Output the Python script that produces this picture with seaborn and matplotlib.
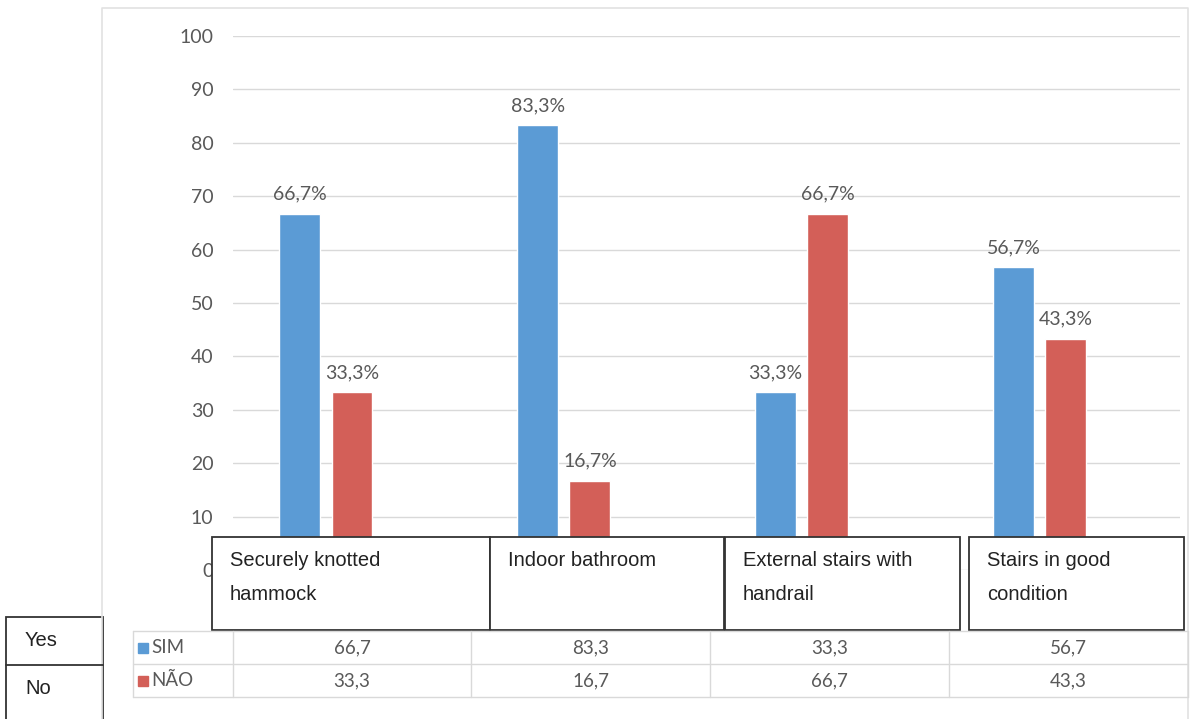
import numpy as np
import pandas as pd
import matplotlib
matplotlib.use("Agg")
import matplotlib.pyplot as plt
from matplotlib.patches import Rectangle
import seaborn as sns

# Data
categories = ["Securely knotted\nhammock", "Indoor bathroom",
              "External stairs with\nhandrail", "Stairs in good\ncondition"]
series = ["SIM", "NÃO"]
row_names = ["Yes", "No"]
sim_values = [66.7, 83.3, 33.3, 56.7]
nao_values = [33.3, 16.7, 66.7, 43.3]
y_ticks = list(range(0, 101, 10))

colors = {"SIM": "#5B9BD5", "NÃO": "#D35F58"}
grey = "#595959"
line_grey = "#D9D9D9"

df = pd.DataFrame({
    "cat": list(range(len(categories))) * 2,
    "serie": ["SIM"] * len(categories) + ["NÃO"] * len(categories),
    "value": sim_values + nao_values,
})

W, H = 1195, 719
sns.set_theme(style="white")
plt.rcParams["font.family"] = ["Lato", "DejaVu Sans"]

fig = plt.figure(figsize=(W / 100, H / 100), dpi=100)

def px(x0, y0, x1, y1):
    return [x0 / W, (H - y1) / H, (x1 - x0) / W, (y1 - y0) / H]

# Bar chart
ax = fig.add_axes(px(233, 36, 1180, 570))
sns.barplot(data=df, x="cat", y="value", hue="serie", hue_order=series,
            palette=colors, width=0.44, gap=0.22, saturation=1,
            legend=False, ax=ax, order=list(range(len(categories))))
ax.set_xlim(-0.39, len(categories) - 0.41)
ax.set_ylim(0, 100)
ax.set_yticks(y_ticks)
ax.set_yticklabels([str(t) for t in y_ticks], color=grey, fontsize=14)
ax.set_xticks([])
ax.set_xlabel("")
ax.set_ylabel("")
ax.tick_params(axis="y", length=0, pad=14)
ax.yaxis.grid(True, color=line_grey, lw=1)
ax.set_axisbelow(True)
for s in ax.spines.values():
    s.set_visible(False)

for cont in ax.containers:
    vals = [p.get_height() for p in cont]
    ax.bar_label(cont, labels=[f"{v:.1f}".replace(".", ",") + "%" for v in vals],
                 padding=8, color=grey, fontsize=14)

# Overlay in pixel coordinates
ov = fig.add_axes([0, 0, 1, 1], zorder=5)
ov.set_xlim(0, W)
ov.set_ylim(H, 0)
ov.axis("off")
ov.patch.set_alpha(0)

# outer chart frame
ov.plot([102, 102, 1188, 1188], [H + 2, 8, 8, H + 2], color="#E2E2E2", lw=1.2)

# data table
col_edges = [133, 233, 471, 710, 949, 1188]
row_edges = [631, 664, 697]
for y in row_edges:
    ov.plot([col_edges[0], col_edges[-1]], [y, y], color=line_grey, lw=1)
for x in col_edges:
    ov.plot([x, x], [row_edges[0], row_edges[-1]], color=line_grey, lw=1)
for r, (name, vals) in enumerate(zip(series, [sim_values, nao_values])):
    yc = (row_edges[r] + row_edges[r + 1]) / 2
    ov.add_patch(Rectangle((138, yc - 5), 10, 10, color=colors[name]))
    ov.text(151, yc, name, color=grey, fontsize=13.5, va="center", ha="left")
    for c, v in enumerate(vals):
        xc = (col_edges[c + 1] + col_edges[c + 2]) / 2
        ov.text(xc, yc, f"{v:.1f}".replace(".", ","), color=grey, fontsize=13.5,
                va="center", ha="center")

# English label boxes over category axis
box_edges = [(212, 490), (490, 724), (725, 960), (969, 1184)]
for (x0, x1), label in zip(box_edges, categories):
    ov.add_patch(Rectangle((x0, 537), x1 - x0, 93, facecolor="white",
                           edgecolor="#333333", lw=1.3))
    for i, line in enumerate(label.split("\n")):
        ov.text(x0 + 18, 560 + 34 * i, line, fontsize=14.5, color="#222222",
                family=["Liberation Sans", "DejaVu Sans"], va="center", ha="left")

# Yes / No boxes
ov.add_patch(Rectangle((6, 617), 97, 110, facecolor="white",
                       edgecolor="#333333", lw=1.3))
ov.plot([6, 103], [665, 665], color="#333333", lw=1.3)
for i, name in enumerate(row_names):
    ov.text(25, 640 + 48 * i, name, fontsize=14.5, color="#222222",
            family=["Liberation Sans", "DejaVu Sans"], va="center", ha="left")

fig.savefig("out.png", dpi=100)
